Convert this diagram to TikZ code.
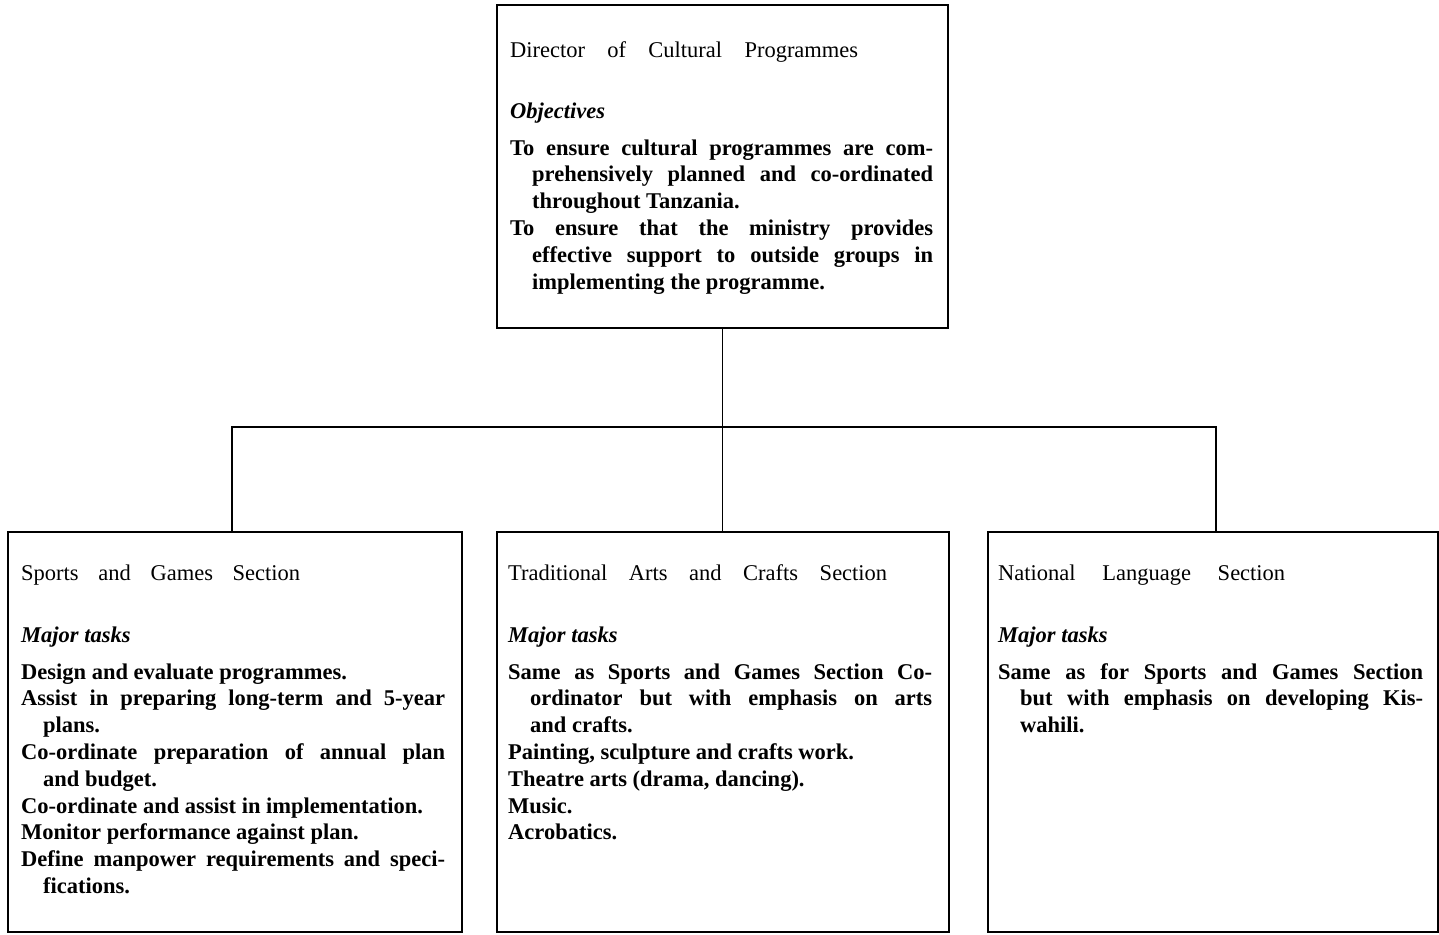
\documentclass[tikz,border=0pt]{standalone}
\usepackage{fontspec}
\setmainfont{Liberation Serif}

% one task or objective: hanging indent for the continuation lines
\newcommand{\entry}[1]{\hangindent=22pt\hangafter=1 #1\par}
% block of entries, first baseline at the node's base
\newcommand{\entries}[2]{\parbox[t]{#1}{\bfseries\parindent=0pt\parskip=0pt
  \tolerance=9999\hbadness=10000\hyphenpenalty=10000 #2}}

\begin{document}
\begin{tikzpicture}[x=1pt,y=-1pt,
  unit/.style={draw, line width=2pt, inner sep=0pt, anchor=north west},
  link/.style={line width=1.8pt},
  txt/.style={anchor=base west, inner sep=0pt,
    font=\fontsize{22.5}{26.8}\selectfont}]
\useasboundingbox[fill=white] (0,0) rectangle (1439,934);

% boxes
\node[unit, minimum width=451pt, minimum height=323pt] (dir) at (496,4) {};
\node[unit, minimum width=454pt, minimum height=400pt] (sg)  at (7,531) {};
\node[unit, minimum width=452pt, minimum height=400pt] (ta)  at (496,531) {};
\node[unit, minimum width=450pt, minimum height=400pt] (nl)  at (987,531) {};

% connectors
\coordinate (busL) at (232,427);
\coordinate (busR) at (1216,427);
\draw[link] (dir.south) -- (dir.south |- ta.north);
\draw[link] (sg.north -| busL) -- (busL) -- (busR) -- (nl.north -| busR);

% director
\node[txt] (dirT) at (510,57) {\makebox[348pt][s]{Director of Cultural Programmes}};
\node[txt] (dirH) at (510,118) {\textbf{\textit{Objectives}}};
\node[txt] (dirB) at (510,155) {\entries{423pt}{%
  \entry{To ensure cultural programmes are com-\linebreak prehensively planned and co-ordinated\linebreak throughout Tanzania.}
  \entry{To ensure that the ministry provides\linebreak effective support to outside groups in\linebreak implementing the programme.}}};

% sports and games
\node[txt] (sgT) at (21,580) {\makebox[279pt][s]{Sports and Games Section}};
\node[txt] (sgH) at (21,642) {\textbf{\textit{Major tasks}}};
\node[txt] (sgB) at (21,679) {\entries{424pt}{%
  \entry{Design and evaluate programmes.}
  \entry{Assist in preparing long-term and 5-year\linebreak plans.}
  \entry{Co-ordinate preparation of annual plan\linebreak and budget.}
  \entry{Co-ordinate and assist in implementation.}
  \entry{Monitor performance against plan.}
  \entry{Define manpower requirements and speci-\linebreak fications.}}};

% traditional arts and crafts
\node[txt] (taT) at (508,580) {\makebox[379pt][s]{Traditional Arts and Crafts Section}};
\node[txt] (taH) at (508,642) {\textbf{\textit{Major tasks}}};
\node[txt] (taB) at (508,679) {\entries{424pt}{%
  \entry{Same as Sports and Games Section Co-\linebreak ordinator but with emphasis on arts\linebreak and crafts.}
  \entry{Painting, sculpture and crafts work.}
  \entry{Theatre arts (drama, dancing).}
  \entry{Music.}
  \entry{Acrobatics.}}};

% national language
\node[txt] (nlT) at (998,580) {\makebox[287pt][s]{National Language Section}};
\node[txt] (nlH) at (998,642) {\textbf{\textit{Major tasks}}};
\node[txt] (nlB) at (998,679) {\entries{425pt}{%
  \entry{Same as for Sports and Games Section\linebreak but with emphasis on developing Kis-\linebreak wahili.}}};
\end{tikzpicture}
\end{document}
